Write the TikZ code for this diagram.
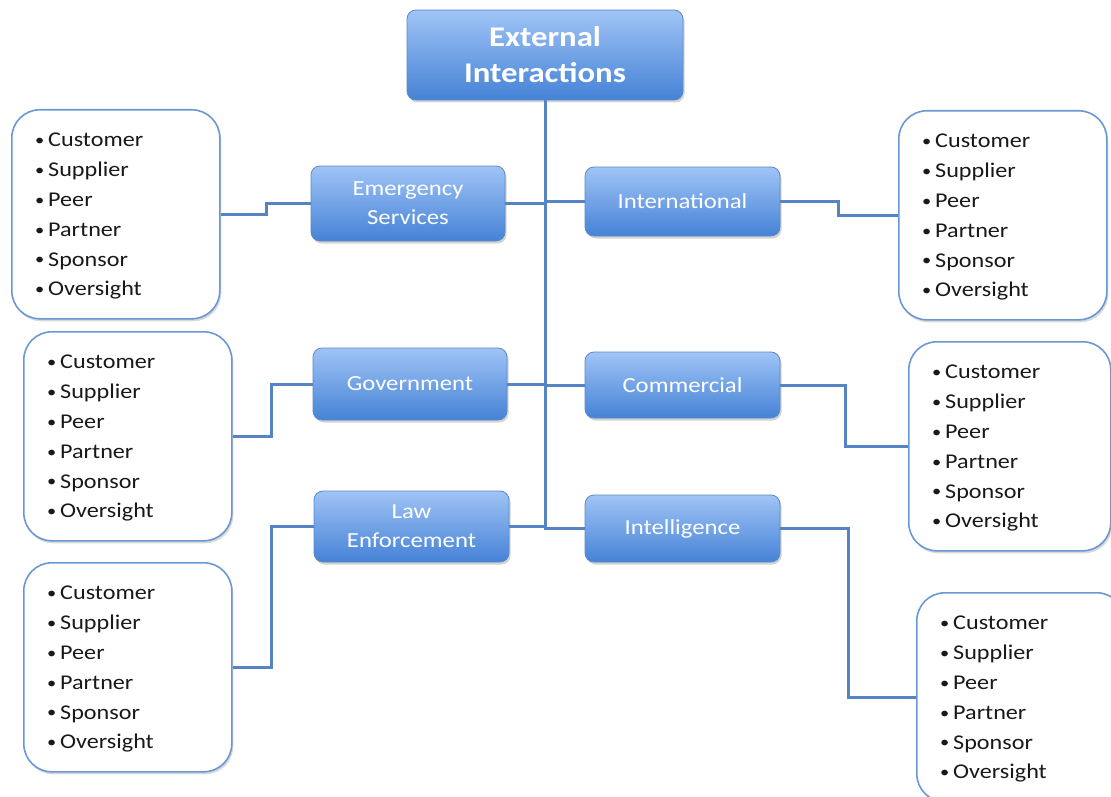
\documentclass[tikz,border=0pt]{standalone}
\usepackage{fontspec}
\setmainfont[FakeStretch=1.15]{Carlito}
\usetikzlibrary{shadows}
\definecolor{boxtop}{HTML}{A0C4F6}
\definecolor{boxbot}{HTML}{4582D6}
\definecolor{boxline}{HTML}{5A89C8}
\definecolor{wire}{HTML}{5584C4}
\definecolor{listline}{HTML}{6A98D4}
% small bullet followed by a fixed gap
\newcommand\bul{\makebox[13pt][l]{\raisebox{0.12ex}{\fontsize{16}{16}\selectfont\textbullet}}}
\newcommand\rolelist{\bul Customer\\\bul Supplier\\\bul Peer\\\bul Partner\\\bul Sponsor\\\bul Oversight}
\tikzset{
  bluebox/.style={draw=boxline, line width=0.8pt, rounded corners=9pt,
    top color=boxtop, bottom color=boxbot, text=white, align=center,
    drop shadow={opacity=0.35, shadow xshift=1.5pt, shadow yshift=-2.5pt},
    inner sep=0pt, font=\fontsize{21.5}{29}\selectfont},
  titlebox/.style={bluebox, font=\bfseries\fontsize{28.5}{36}\selectfont},
  listbox/.style={draw=listline, line width=1.6pt, rounded corners=28pt, fill=white,
    drop shadow={opacity=0.3, shadow xshift=1.5pt, shadow yshift=-2.5pt},
    anchor=north west, inner sep=0pt},
  listtext/.style={anchor=west, align=left, inner sep=0pt,
    font=\fontsize{21}{29.8}\selectfont, text=black!90},
  wire/.style={draw=wire, line width=3pt}
}
\begin{document}
\begin{tikzpicture}[x=1pt,y=-1pt]
\useasboundingbox (0,0) rectangle (1111,797);
\clip (0,0) rectangle (1111,797);
% title and category boxes
\node[titlebox, minimum width=276, minimum height=90] (top) at (545,55) {External\\Interactions};
\node[bluebox, minimum width=194, minimum height=75] (es) at (408,203.5) {Emergency\\Services};
\node[bluebox, minimum width=194, minimum height=72] (gov) at (410,384) {Government};
\node[bluebox, minimum width=195, minimum height=71] (law) at (411.5,526.5) {Law\\Enforcement};
\node[bluebox, minimum width=195, minimum height=69] (intl) at (682.5,201.5) {International};
\node[bluebox, minimum width=195, minimum height=66] (com) at (682.5,385) {Commercial};
\node[bluebox, minimum width=195, minimum height=67] (intel) at (682.5,528.5) {Intelligence};
% role lists: a rounded frame and its bullet text
\newcommand\listnode[4]{%
  \node[listbox, minimum width=#3, minimum height=209] (#1) at (#2) {};
  \node[listtext] (#1t) at ([xshift=#4, yshift=-2]#1.west) {\rolelist};}
\listnode{l1}{11,109}{208}{24}
\listnode{l2}{23,331}{208}{24}
\listnode{l3}{23,562}{208}{24}
\listnode{r1}{898,110}{208}{24}
\listnode{r2}{908,341}{202}{24}
\listnode{r3}{916,592}{208}{24}
% trunk and branches
\draw[wire] (top.south) |- (intel.west);
\draw[wire] (es.east) -- (es.east -| top.south);
\draw[wire] (intl.west) -- (intl.west -| top.south);
\draw[wire] (gov.east) -- (gov.east -| top.south);
\draw[wire] (com.west) -- (com.west -| top.south);
\draw[wire] (law.east) -- (law.east -| top.south);
% list connectors
\draw[wire] (l1.east) -- ++(46,0) |- (es.west);
\draw[wire] (l2.east) -- ++(39,0) |- (gov.west);
\draw[wire] (l3.east) -- ++(39,0) |- (law.west);
\draw[wire] (intl.east) -- ++(58,0) |- (r1.west);
\draw[wire] (com.east) -- ++(65,0) |- (r2.west);
\draw[wire] (intel.east) -- ++(68,0) |- (r3.west);
\end{tikzpicture}
\end{document}
